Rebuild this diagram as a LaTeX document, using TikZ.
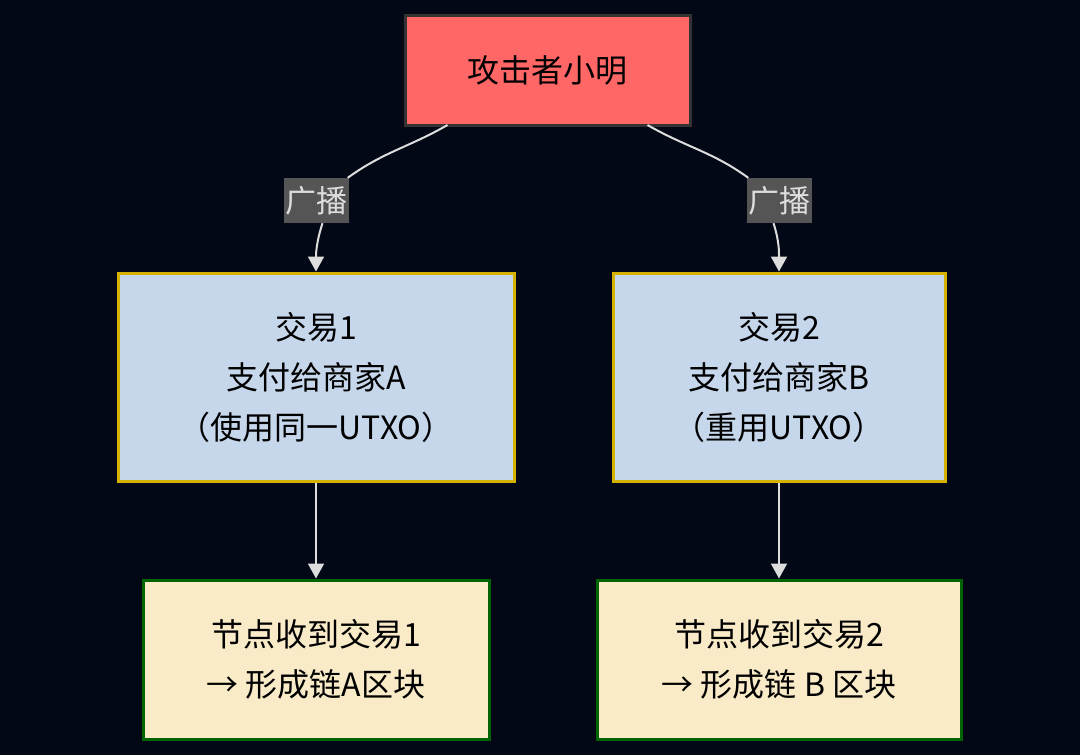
\documentclass[tikz,border=0pt]{standalone}
\usepackage{fontspec}
\setmainfont{Noto Sans CJK SC}
\usetikzlibrary{arrows.meta}
\definecolor{bg}{RGB}{2,8,22}
\definecolor{topfill}{RGB}{255,102,102}
\definecolor{topline}{RGB}{51,51,51}
\definecolor{txfill}{RGB}{198,215,236}
\definecolor{txline}{RGB}{214,178,0}
\definecolor{ndfill}{RGB}{250,235,200}
\definecolor{ndline}{RGB}{0,100,0}
\definecolor{lblfill}{RGB}{85,85,85}
\definecolor{lbltext}{RGB}{221,221,221}
\definecolor{edgecol}{RGB}{221,221,221}
\tikzset{
  box/.style={draw, line width=3pt, inner sep=0pt, align=center, text=black,
    font=\fontsize{32pt}{50pt}\selectfont},
  attacker/.style={box, fill=topfill, draw=topline},
  txbox/.style={box, fill=txfill, draw=txline},
  ndbox/.style={box, fill=ndfill, draw=ndline},
  lbl/.style={fill=lblfill, text=lbltext, inner sep=0pt, minimum width=65pt, minimum height=45pt,
    font=\fontsize{31pt}{36pt}\selectfont},
  edge/.style={draw=edgecol, line width=2pt},
  arr/.style={edge, -{Triangle[width=16pt,length=15pt]}}
}
\begin{document}
\begin{tikzpicture}[x=1pt,y=-1pt]
\fill[bg] (0,0) rectangle (1080,755);
\useasboundingbox (0,0) rectangle (1080,755);

\node[attacker, minimum width=285pt, minimum height=110pt] (top) at (547.5,70) {攻击者小明};
\node[txbox, minimum width=396pt, minimum height=208pt] (tx1) at (316,377) {交易1\\支付给商家A\\（使用同一UTXO）};
\node[txbox, minimum width=332pt, minimum height=208pt] (tx2) at (779,377) {交易2\\支付给商家B\\（重用UTXO）};
\node[ndbox, minimum width=346pt, minimum height=159pt] (nd1) at (316,659.5) {节点收到交易1\\→ 形成链A区块};
\node[ndbox, minimum width=364pt, minimum height=159pt] (nd2) at (779,659.5) {节点收到交易2\\→ 形成链 B 区块};

\node[lbl] (l1) at (316.5,200.5) {广播};
\node[lbl] (l2) at (779.5,200.5) {广播};

\draw[edge] ([xshift=-100pt,yshift=1.5pt]top.south) to[out=-150,in=36] (l1);
\draw[arr] ([xshift=6pt]l1.south) to[out=-108,in=90] (tx1.north);
\draw[edge] ([xshift=100pt,yshift=1.5pt]top.south) to[out=-30,in=144] (l2);
\draw[arr] ([xshift=-6pt]l2.south) to[out=-72,in=90] (tx2.north);

\draw[arr] (tx1.south) -- (nd1.north);
\draw[arr] (tx2.south) -- (nd2.north);
\end{tikzpicture}
\end{document}
